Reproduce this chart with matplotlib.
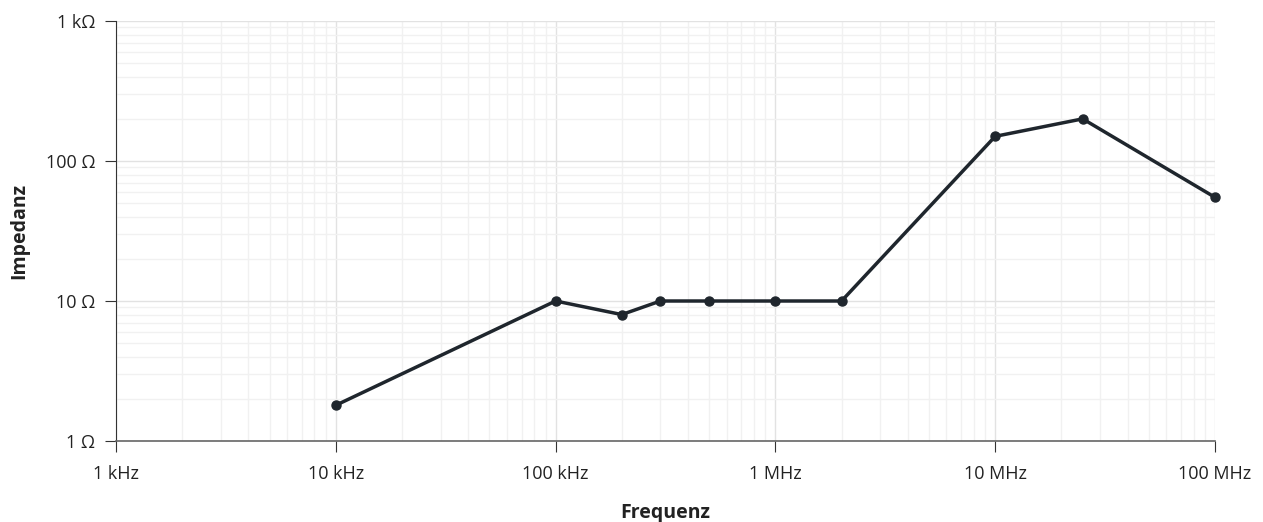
import matplotlib.pyplot as plt
from matplotlib.ticker import FixedLocator, LogLocator, NullFormatter

# Data (frequency in Hz, impedance in Ohm)
freq = [1e4, 1e5, 2e5, 3e5, 5e5, 1e6, 2e6, 1e7, 2.5e7, 1e8]
impedance = [1.8, 10, 8, 10, 10, 10, 10, 150, 200, 55]

x_ticks = [1e3, 1e4, 1e5, 1e6, 1e7, 1e8]
x_labels = ['1 kHz', '10 kHz', '100 kHz', '1 MHz', '10 MHz', '100 MHz']
y_ticks = [1, 10, 100, 1000]
y_labels = ['1 Ω', '10 Ω', '100 Ω', '1 kΩ']

plt.rcParams['font.family'] = ['Open Sans', 'DejaVu Sans']

W, H = 1263, 522
fig = plt.figure(figsize=(W / 100, H / 100), dpi=100)
ax = fig.add_axes([116 / W, 1 - 441 / H, (1215 - 116) / W, (441 - 21) / H])

line_col = '#1f262d'
ax.plot(freq, impedance, color=line_col, lw=2.5, marker='o', ms=6.5, zorder=3,
        solid_joinstyle='round', clip_on=False)

ax.set_xscale('log')
ax.set_yscale('log')
ax.set_xlim(1e3, 1e8)
ax.set_ylim(1, 1000)

ax.xaxis.set_major_locator(FixedLocator(x_ticks))
ax.set_xticklabels(x_labels)
ax.yaxis.set_major_locator(FixedLocator(y_ticks))
ax.set_yticklabels(y_labels)
ax.xaxis.set_minor_locator(LogLocator(base=10, subs=range(2, 10)))
ax.yaxis.set_minor_locator(LogLocator(base=10, subs=range(2, 10)))
ax.xaxis.set_minor_formatter(NullFormatter())
ax.yaxis.set_minor_formatter(NullFormatter())

ax.grid(True, which='major', color='#e2e2e2', lw=1)
ax.grid(True, which='minor', color='#f1f1f1', lw=1)
ax.set_axisbelow(True)

for s in ['top', 'right']:
    ax.spines[s].set_visible(False)
ax.spines['left'].set_color('#333333')
ax.spines['bottom'].set_color('#666666')
ax.spines['bottom'].set_linewidth(1.2)

ax.tick_params(axis='both', which='minor', length=0)
ax.tick_params(axis='y', which='major', length=8, color='#333333', labelsize=13,
               pad=7, labelcolor='#222222')
ax.tick_params(axis='x', which='major', length=8, color='#333333', labelsize=13,
               pad=9, labelcolor='#222222')

ax.set_xlabel('Frequenz', fontsize=14, fontweight='bold', labelpad=15, color='#222222')
ax.set_ylabel('Impedanz', fontsize=14, fontweight='bold', labelpad=12, color='#222222')

fig.savefig('out.png', dpi=100, facecolor='white')
